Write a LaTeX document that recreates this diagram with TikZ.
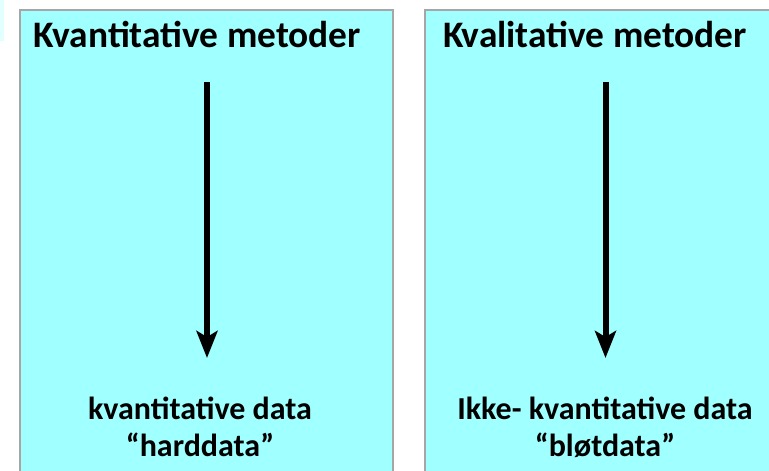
\documentclass[tikz,border=0pt]{standalone}
\usepackage{fontspec}
\setmainfont{Carlito}
\usetikzlibrary{arrows.meta}
\definecolor{boxfill}{RGB}{160,255,255}
\definecolor{boxline}{RGB}{166,166,166}
\definecolor{palefill}{RGB}{225,255,255}
\tikzset{
  panel/.style={fill=boxfill, draw=boxline, line width=2.5pt},
  titletext/.style={font=\bfseries\fontsize{37.4}{41}\selectfont, anchor=base, inner sep=0pt},
  datatext/.style={font=\bfseries\fontsize{32}{37}\selectfont, align=center, anchor=north, inner sep=0pt},
  flowarrow/.style={line width=6pt, -{Stealth[length=27pt,width=21pt,inset=6pt]}},
}
\begin{document}
\begin{tikzpicture}[x=1pt,y=-1pt]
\useasboundingbox (0,0) rectangle (769,471);
\begin{scope}
\clip (0,0) rectangle (769,471);
\fill[palefill] (0,0) rectangle (4,41);
\draw[panel] (20,10) rectangle (393,490);
\draw[panel] (425,10) rectangle (790,490);
\end{scope}
\node[titletext] (t1) at (197.5,47) {Kvantitative metoder};
\node[titletext] (t2) at (595,47) {Kvalitative metoder};
\coordinate (a1s) at (207,82);
\coordinate (a1e) at (207,358);
\coordinate (a2s) at (605.5,82);
\coordinate (a2e) at (605.5,358);
\draw[flowarrow] (a1s) -- (a1e);
\draw[flowarrow] (a2s) -- (a2e);
\node[datatext] (d1) at (200,397) {kvantitative data\\“harddata”};
\node[datatext] (d2) at (605,397) {Ikke- kvantitative data\\“bløtdata”};
\end{tikzpicture}
\end{document}
